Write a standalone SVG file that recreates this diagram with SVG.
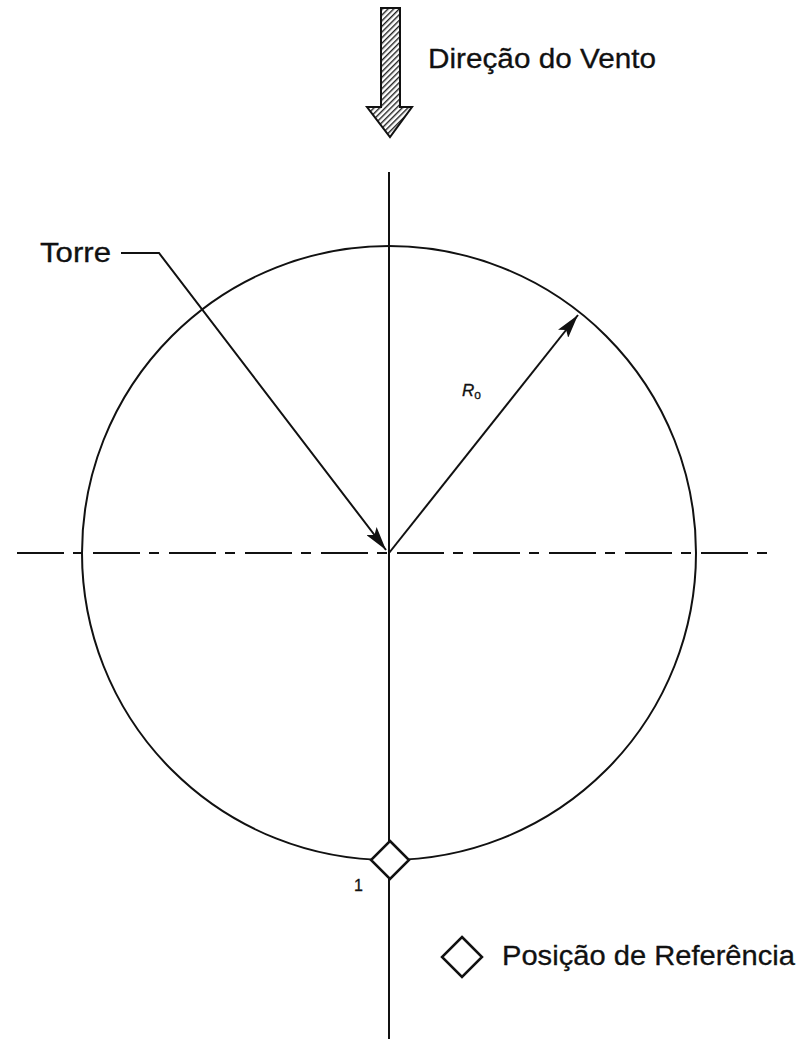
<svg xmlns="http://www.w3.org/2000/svg" width="803" height="1039" viewBox="0 0 803 1039">
  <style>
    .ln { stroke: #111; stroke-width: 2; fill: none; }
    .txt { font-family: "Liberation Sans", Arial, sans-serif; fill: #111; stroke: #111; stroke-width: 0.3; }
  </style>
  <defs>
    <pattern id="hatch" patternUnits="userSpaceOnUse" width="4" height="4" patternTransform="rotate(45)">
      <rect width="4" height="4" fill="#fff"/>
      <line x1="0" y1="0" x2="0" y2="4" stroke="#222" stroke-width="2.8"/>
    </pattern>
    <marker id="ah" viewBox="0 0 24 13" refX="24" refY="6.5" markerWidth="24" markerHeight="13" markerUnits="userSpaceOnUse" orient="auto">
      <path d="M0,0 L24,6.5 L0,13 L5,6.5 Z" fill="#111"/>
    </marker>
  </defs>
  <rect width="803" height="1039" fill="#fff"/>

  <g id="wind">
    <path d="M381,8 L400,8 L400,107 L412,107 L390,137 L367,107 L381,107 Z" fill="url(#hatch)" stroke="#111" stroke-width="2"/>
    <text class="txt" x="428" y="68" font-size="27" textLength="228" lengthAdjust="spacingAndGlyphs">Direção do Vento</text>
  </g>

  <g id="axes">
    <line class="ln" x1="389" y1="172" x2="389" y2="1039"/>
    <line class="ln" x1="17" y1="553" x2="775" y2="553" stroke-dasharray="47 9 10 10"/>
  </g>

  <g id="circle">
    <circle class="ln" cx="389" cy="553" r="307"/>
  </g>

  <g id="connectors">
    <polyline class="ln" points="121,253 159,253 386,550" marker-end="url(#ah)"/>
    <line class="ln" x1="389" y1="553" x2="578" y2="315" marker-end="url(#ah)"/>
  </g>

  <g id="torre">
    <text class="txt" x="40" y="262" font-size="27" textLength="71" lengthAdjust="spacingAndGlyphs">Torre</text>
  </g>

  <g id="ro">
    <text class="txt" x="462" y="396" font-size="17" font-style="italic" stroke-width="0.2">R<tspan font-style="normal" font-size="12" dy="3">o</tspan></text>
  </g>

  <g id="ref-point">
    <path d="M390,841 L409,860 L390,879 L371,860 Z" fill="#fff" stroke="#111" stroke-width="2.5"/>
    <text class="txt" x="354" y="891" font-size="16">1</text>
  </g>

  <g id="legend">
    <path d="M462,937 L482,957 L462,977 L442,957 Z" fill="#fff" stroke="#111" stroke-width="2.5"/>
    <text class="txt" x="502" y="965" font-size="27" textLength="293" lengthAdjust="spacingAndGlyphs">Posição de Referência</text>
  </g>
</svg>
